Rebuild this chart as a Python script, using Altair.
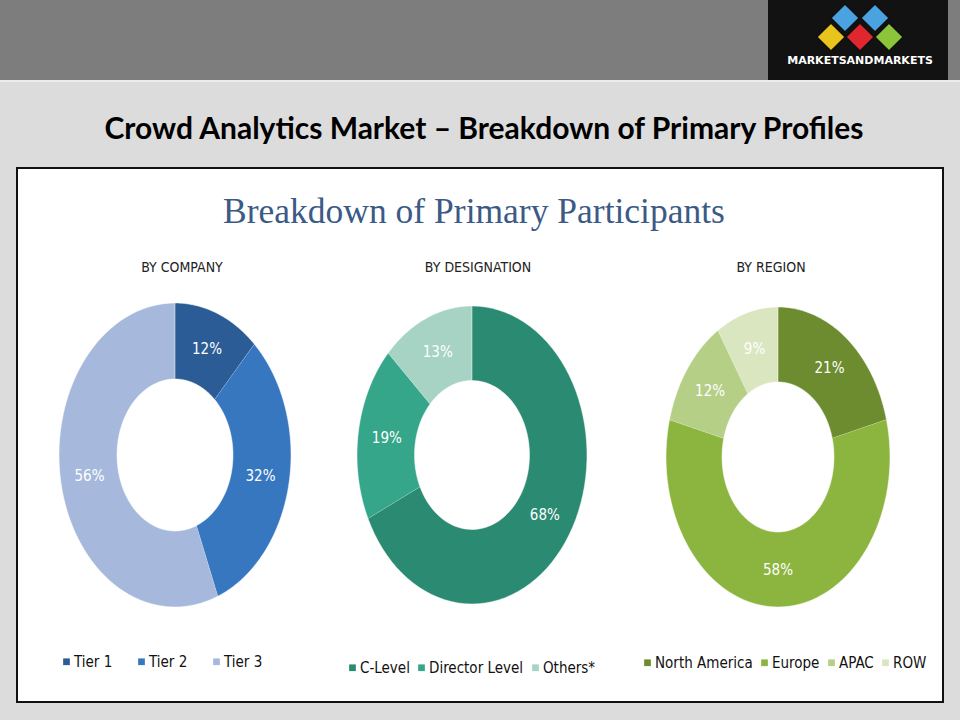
import altair as alt
import pandas as pd

# ---- data -------------------------------------------------------------
company_labels = ["Tier 1", "Tier 2", "Tier 3"]
company_values = [12, 32, 56]

designation_labels = ["C-Level", "Director Level", "Others*"]
designation_values = [68, 19, 13]

region_labels = ["North America", "Europe", "APAC", "ROW"]
region_values = [21, 58, 12, 9]

# ---- styling ----------------------------------------------------------
company_colors = ["#2b5c96", "#3777c0", "#a6b9dc"]
designation_colors = ["#2a8a72", "#36a68a", "#a7d3c4"]
region_colors = ["#6d8c30", "#8cb53f", "#b6cf87", "#d9e6c0"]

W, H = 960, 720
STEPS = 72          # vertices along each arc edge of a segment
HOLE = 0.5          # inner radius as a share of the outer radius
NARROW = "DejaVu Sans Condensed, Liberation Sans Narrow, Roboto, sans-serif"

one_row = pd.DataFrame({"v": [0]})


def rect(x, x2, y, y2, fill, stroke=None, sw=0):
    kw = dict(fill=fill)
    if stroke:
        kw.update(stroke=stroke, strokeWidth=sw)
    return alt.Chart(one_row).mark_rect(**kw).encode(
        x=alt.value(x), x2=alt.value(x2), y=alt.value(y), y2=alt.value(y2)
    )


def text(s, x, y, size, font, color, weight="normal", align="center"):
    return alt.Chart(one_row).mark_text(
        text=s, fontSize=size, font=font, color=color, fontWeight=weight,
        align=align, baseline="middle"
    ).encode(x=alt.value(x), y=alt.value(y))


def diamond(x, y, color):
    return alt.Chart(one_row).mark_point(
        shape="diamond", size=800, filled=True, fill=color, opacity=1,
        stroke="#101010", strokeWidth=1.5
    ).encode(x=alt.value(x), y=alt.value(y))


def donut(labels, values, colors, cx, cy, rx, ry, leg_x, leg_y, col_pad):
    df = pd.DataFrame({"segment": labels, "share": values,
                       "rank": list(range(len(labels)))})
    xs = alt.Scale(domain=[-1, 1], range=[cx - rx, cx + rx])
    ys = alt.Scale(domain=[-1, 1], range=[cy + ry, cy - ry])

    base = alt.Chart(df).transform_joinaggregate(
        total="sum(share)"
    ).transform_window(
        cum="sum(share)", sort=[alt.SortField("rank")], frame=[None, 0]
    ).transform_calculate(
        a0="2*PI*(datum.cum - datum.share)/datum.total"
    ).transform_calculate(
        a1="2*PI*datum.cum/datum.total"
    )

    n = STEPS
    ring = base.transform_calculate(
        k=f"sequence(0, {2 * n + 2})"
    ).transform_flatten(["k"]).transform_calculate(
        t=f"datum.k <= {n} ? datum.k/{n} : ({2 * n + 1} - datum.k)/{n}"
    ).transform_calculate(
        r=f"datum.k <= {n} ? 1 : {HOLE}"
    ).transform_calculate(
        ang="datum.a0 + (datum.a1 - datum.a0)*datum.t"
    ).transform_calculate(
        px="datum.r*sin(datum.ang)", py="datum.r*cos(datum.ang)"
    ).mark_line(
        filled=True, stroke="white", strokeWidth=0.8, strokeOpacity=0.6
    ).encode(
        x=alt.X("px:Q", scale=xs, axis=None),
        y=alt.Y("py:Q", scale=ys, axis=None),
        color=alt.Color(
            "segment:N",
            scale=alt.Scale(domain=labels, range=colors),
            sort=labels,
            legend=alt.Legend(
                orient="none", legendX=leg_x, legendY=leg_y,
                direction="horizontal", title=None, symbolType="square",
                symbolSize=45, symbolStrokeWidth=0, labelFont=NARROW,
                labelFontSize=15, labelColor="#111111", labelOffset=0,
                columnPadding=col_pad, padding=0,
            ),
        ),
        order=alt.Order("k:Q"),
        detail="segment:N",
    )

    pct = base.transform_calculate(
        mid="(datum.a0 + datum.a1)/2"
    ).transform_calculate(
        lx="0.75*sin(datum.mid)", ly="0.75*cos(datum.mid)",
        txt="datum.share + '%'"
    ).mark_text(
        font=NARROW, fontSize=15, color="white", baseline="middle"
    ).encode(
        x=alt.X("lx:Q", scale=xs, axis=None),
        y=alt.Y("ly:Q", scale=ys, axis=None),
        text="txt:N",
    )
    return alt.layer(ring, pct)


# ---- page furniture ---------------------------------------------------
header = rect(0, W, 0, 80, "#7d7d7d")
header_edge = rect(0, W, 80, 82, "#ececec")
logo_box = rect(768, 948, 0, 80, "#121212")
panel = rect(17, 943, 168, 702, "white", "#111111", 2)

logo = [
    diamond(845, 18, "#4aa3e0"),
    diamond(875, 18, "#4aa3e0"),
    diamond(831, 37, "#e8c41c"),
    diamond(860, 37, "#e0262e"),
    diamond(889, 37, "#8cc43a"),
    text("MARKETSANDMARKETS", 860, 61, 11, "DejaVu Sans", "white", "bold"),
]

titles = [
    text("Crowd Analytics Market – Breakdown of Primary Profiles", 484, 130,
         30, "Lato, Open Sans, sans-serif", "black", "bold"),
    text("Breakdown of Primary Participants", 474, 212, 35.5,
         "Liberation Serif, DejaVu Serif, serif", "#3b5a86"),
    text("BY COMPANY", 182, 268, 14, NARROW, "#222222"),
    text("BY DESIGNATION", 478, 268, 14, NARROW, "#222222"),
    text("BY REGION", 771, 268, 14, NARROW, "#222222"),
]

donuts = [
    donut(company_labels, company_values, company_colors,
          175, 455, 116, 152, 59, 654, 21),
    donut(designation_labels, designation_values, designation_colors,
          472, 455, 115, 149, 345, 660, 4),
    donut(region_labels, region_values, region_colors,
          778, 457, 112, 150, 640, 655, 4),
]

chart = alt.layer(
    header, header_edge, logo_box, panel, *logo, *titles, *donuts
).resolve_scale(
    x="independent", y="independent", color="independent"
).properties(
    width=W, height=H, background="#dcdcdc", padding=0,
    autosize=alt.AutoSizeParams(type="none"),
).configure_view(stroke=None)

chart.save("out.html", embed_options={"renderer": "svg", "actions": False})
